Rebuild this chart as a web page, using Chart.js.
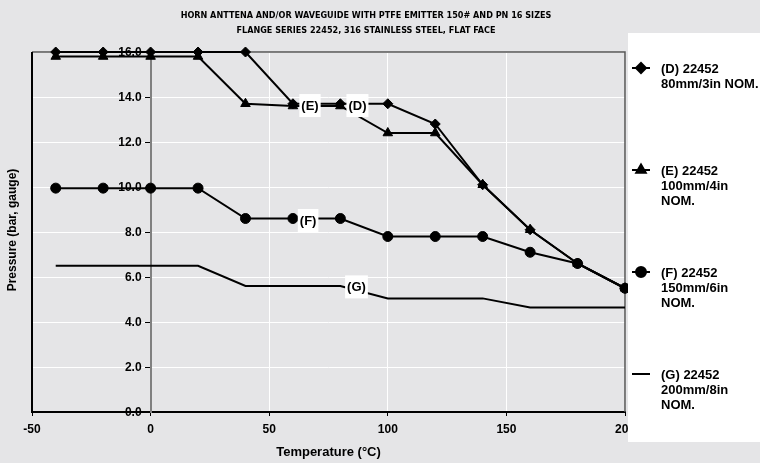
<!DOCTYPE html>
<html>
<head>
<meta charset="utf-8">
<script src="https://cdn.jsdelivr.net/npm/chart.js"></script>
<style>
  html, body { margin: 0; padding: 0; background: #e5e5e7; }
  canvas { display: block; }
</style>
</head>
<body>
<canvas id="flangeChart" width="760" height="463"></canvas>
<script>
// Pressure / temperature rating, flange series 22452

const temps = [-40, -20, 0, 20, 40, 60, 80, 100, 120, 140, 160, 180, 200];
const seriesD = [16.0, 16.0, 16.0, 16.0, 16.0, 13.7, 13.7, 13.7, 12.8, 10.1, 8.1, 6.6, 5.5];
const seriesE = [15.8, 15.8, 15.8, 15.8, 13.7, 13.6, 13.6, 12.4, 12.4, 10.1, 8.1, 6.6, 5.5];
const seriesF = [9.95, 9.95, 9.95, 9.95, 8.6, 8.6, 8.6, 7.8, 7.8, 7.8, 7.1, 6.6, 5.5];
const seriesG = [6.5, 6.5, 6.5, 6.5, 5.6, 5.6, 5.6, 5.05, 5.05, 5.05, 4.65, 4.65, 4.65];

const legendNames = [
  ['(D) 22452', '80mm/3in NOM.'],
  ['(E) 22452', '100mm/4in', 'NOM.'],
  ['(F) 22452', '150mm/6in', 'NOM.'],
  ['(G) 22452', '200mm/8in', 'NOM.']
];

const titleLines = [
  'HORN ANTTENA AND/OR WAVEGUIDE WITH PTFE EMITTER 150# AND PN 16 SIZES',
  'FLANGE SERIES 22452, 316 STAINLESS STEEL, FLAT FACE'
];

// curve tags, in data units (temperature, pressure)
const tagText = ['(E)', '(D)', '(F)', '(G)'];
const tagTemp = [67.2, 87.2, 66.4, 86.8];
const tagPress = [13.62, 13.62, 8.51, 5.56];

const BOLD = "'Liberation Sans', Arial, sans-serif";

function points(ys) {
  return temps.map((t, i) => ({ x: t, y: ys[i] }));
}

function makeSet(label, ys, style, radius) {
  return {
    label: label,
    data: points(ys),
    borderColor: '#000',
    backgroundColor: '#000',
    borderWidth: 2,
    pointStyle: style,
    pointRadius: radius,
    pointBackgroundColor: '#000',
    pointBorderColor: '#000',
    pointBorderWidth: 1,
    tension: 0,
    clip: false
  };
}

const decor = {
  id: 'decor',
  beforeDraw(chart) {
    const ctx = chart.ctx;
    ctx.save();
    ctx.fillStyle = '#e5e5e7';
    ctx.fillRect(0, 0, chart.width, chart.height);
    ctx.restore();
  },
  beforeDatasetsDraw(chart) {
    const ctx = chart.ctx;
    const a = chart.chartArea;
    const xs = chart.scales.x, ys = chart.scales.y;
    ctx.save();
    ctx.strokeStyle = '#555';
    ctx.lineWidth = 1.5;
    ctx.beginPath();
    ctx.moveTo(a.left, a.top);
    ctx.lineTo(a.right, a.top);
    ctx.lineTo(a.right, a.bottom);
    ctx.stroke();
    ctx.strokeStyle = '#000';
    ctx.lineWidth = 2;
    ctx.beginPath();
    ctx.moveTo(a.left, a.top);
    ctx.lineTo(a.left, a.bottom);
    ctx.stroke();

    // y tick labels sit left of the axis crossing at 0 degC
    const axisX = xs.getPixelForValue(0);
    ctx.fillStyle = '#000';
    ctx.font = 'bold 12px ' + BOLD;
    ctx.textAlign = 'right';
    ctx.textBaseline = 'middle';
    ys.ticks.forEach(t => {
      ctx.fillText(t.value.toFixed(1), axisX - 9, ys.getPixelForValue(t.value) + 1);
    });
    ctx.restore();
  },
  afterDatasetsDraw(chart) {
    const ctx = chart.ctx;
    const xs = chart.scales.x, ys = chart.scales.y;
    ctx.save();
    ctx.font = 'bold 13px ' + BOLD;
    ctx.textAlign = 'center';
    ctx.textBaseline = 'middle';
    tagText.forEach((t, i) => {
      const px = xs.getPixelForValue(tagTemp[i]);
      const py = ys.getPixelForValue(tagPress[i]);
      const w = ctx.measureText(t).width + 4;
      ctx.fillStyle = '#fff';
      ctx.fillRect(px - w / 2, py - 11.5, w, 23);
      ctx.fillStyle = '#000';
      ctx.fillText(t, px, py + 1);
    });
    ctx.restore();
  },
  afterDraw(chart) {
    const ctx = chart.ctx;
    ctx.save();
    // title
    ctx.fillStyle = '#000';
    ctx.textAlign = 'center';
    ctx.textBaseline = 'middle';
    ctx.font = "bold 9px 'Liberation Sans Narrow', 'DejaVu Sans Condensed', sans-serif";
    ctx.fillText(titleLines[0], 366, 16);
    ctx.fillText(titleLines[1], 366, 31);

    // y axis title
    ctx.save();
    ctx.translate(13, 230);
    ctx.rotate(-Math.PI / 2);
    ctx.font = 'bold 12px ' + BOLD;
    ctx.fillText('Pressure (bar, gauge)', 0, 0);
    ctx.restore();

    // legend panel
    ctx.fillStyle = '#fff';
    ctx.fillRect(628, 33, 132, 409);
    ctx.textAlign = 'left';
    ctx.font = 'bold 13px ' + BOLD;
    chart.data.datasets.forEach((ds, i) => {
      const y0 = 68 + i * 102;
      ctx.strokeStyle = '#000';
      ctx.lineWidth = 2;
      ctx.beginPath();
      ctx.moveTo(632, y0);
      ctx.lineTo(650, y0);
      ctx.stroke();
      if (ds.pointRadius > 0 && Chart.helpers && Chart.helpers.drawPoint) {
        ctx.fillStyle = '#000';
        Chart.helpers.drawPoint(ctx, {
          pointStyle: ds.pointStyle,
          radius: ds.pointRadius,
          rotation: 0,
          borderWidth: 1
        }, 641, y0);
      }
      ctx.fillStyle = '#000';
      legendNames[i].forEach((line, k) => {
        ctx.fillText(line, 661, y0 + 1 + k * 15);
      });
    });
    ctx.restore();
  }
};

new Chart(document.getElementById('flangeChart'), {
  type: 'line',
  data: {
    datasets: [
      makeSet('(D) 22452 80mm/3in NOM.', seriesD, 'rectRot', 5),
      makeSet('(E) 22452 100mm/4in NOM.', seriesE, 'triangle', 5.5),
      makeSet('(F) 22452 150mm/6in NOM.', seriesF, 'circle', 5),
      makeSet('(G) 22452 200mm/8in NOM.', seriesG, 'circle', 0)
    ]
  },
  options: {
    responsive: false,
    animation: false,
    devicePixelRatio: 1,
    layout: { padding: { left: 32, right: 135, top: 52, bottom: 2 } },
    plugins: {
      legend: { display: false },
      title: { display: false },
      tooltip: { enabled: false }
    },
    scales: {
      x: {
        type: 'linear',
        min: -50,
        max: 200,
        ticks: {
          stepSize: 50,
          color: '#000',
          padding: 6,
          font: { family: BOLD, size: 12, weight: 'bold' }
        },
        grid: { color: '#fff', lineWidth: 1, tickLength: 4, tickColor: '#000' },
        border: { color: '#000', width: 2 },
        title: {
          display: true,
          text: 'Temperature (°C)',
          color: '#000',
          padding: { top: 4, bottom: 1 },
          font: { family: BOLD, size: 13, weight: 'bold' }
        },
        afterFit(scale) { scale.height = 49; }
      },
      y: {
        type: 'linear',
        position: { x: 0 },
        min: 0,
        max: 16,
        ticks: { stepSize: 2, display: false },
        grid: { color: '#fff', lineWidth: 1, tickLength: 5, tickColor: '#000' },
        border: { color: '#808080', width: 2 }
      }
    }
  },
  plugins: [decor]
});
</script>
</body>
</html>
